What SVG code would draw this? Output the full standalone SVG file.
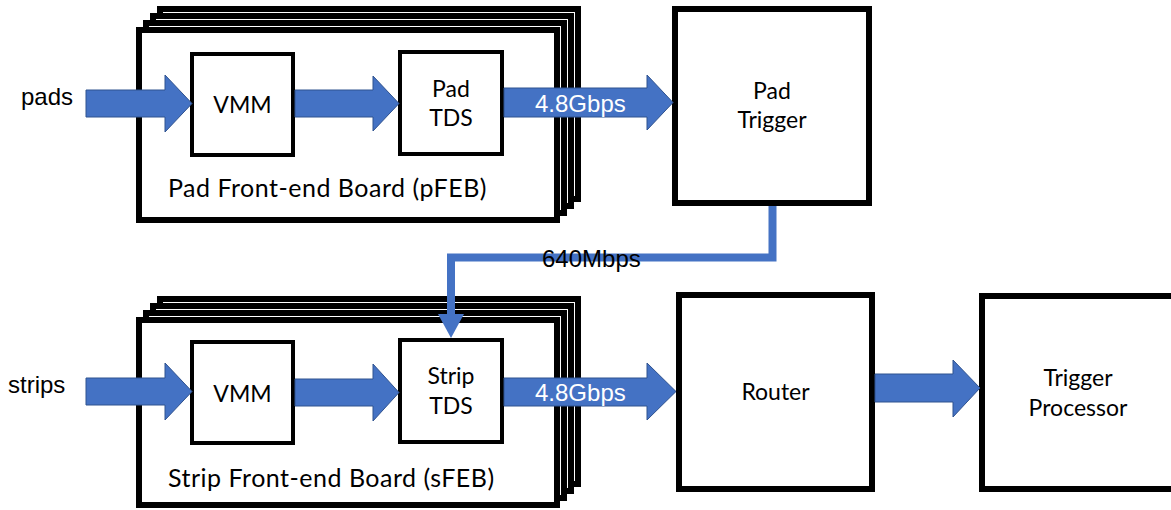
<svg xmlns="http://www.w3.org/2000/svg" width="1171" height="510" viewBox="0 0 1171 510">
  <style>
    .board { fill: #ffffff; stroke: #000000; stroke-width: 6; }
    .chip { fill: #ffffff; stroke: #000000; stroke-width: 4; }
    .unit { fill: #ffffff; stroke: #000000; stroke-width: 6; }
    .arrow { fill: #4472C4; stroke: #2F528F; stroke-width: 1; }
    .link { fill: none; stroke: #4472C4; stroke-width: 8; }
    .head { fill: #4472C4; }
    .box-text { font-family: Lato, "Open Sans", sans-serif; font-size: 23px; fill: #000000; text-anchor: middle; }
    .label { font-family: Lato, "Open Sans", sans-serif; font-size: 25px; letter-spacing: 0.5px; fill: #000000; }
    .side { font-family: "Liberation Sans", Arial, sans-serif; font-size: 24px; fill: #000000; }
    .rate { font-family: "Liberation Sans", Arial, sans-serif; font-size: 24px; fill: #ffffff; }
    .rate-dark { font-family: "Liberation Sans", Arial, sans-serif; font-size: 24px; fill: #000000; }
  </style>

  <rect width="1171" height="510" fill="#ffffff"/>

  <!-- Pad front-end board stack -->
  <g id="pfeb">
    <rect class="board" x="160" y="9" width="418" height="190"/>
    <rect class="board" x="153" y="16" width="418" height="190"/>
    <rect class="board" x="146" y="23" width="418" height="190"/>
    <rect class="board" x="139" y="30" width="418" height="190"/>
    <text class="label" x="168" y="197">Pad Front-end Board (pFEB)</text>
  </g>

  <!-- Strip front-end board stack -->
  <g id="sfeb">
    <rect class="board" x="160" y="299" width="418" height="185"/>
    <rect class="board" x="153" y="306" width="418" height="185"/>
    <rect class="board" x="146" y="313" width="418" height="185"/>
    <rect class="board" x="139" y="320" width="418" height="185"/>
    <text class="label" x="168" y="487">Strip Front-end Board (sFEB)</text>
  </g>

  <g id="pad-vmm">
    <rect class="chip" x="192" y="54" width="101" height="101"/>
    <text class="box-text" x="242.5" y="113">VMM</text>
  </g>

  <g id="pad-tds">
    <rect class="chip" x="400" y="52" width="102" height="102"/>
    <text class="box-text" x="451" y="97">Pad</text>
    <text class="box-text" x="451" y="126">TDS</text>
  </g>

  <g id="strip-vmm">
    <rect class="chip" x="192" y="342" width="101" height="101"/>
    <text class="box-text" x="242.5" y="402">VMM</text>
  </g>

  <g id="strip-tds">
    <rect class="chip" x="400" y="340" width="102" height="102"/>
    <text class="box-text" x="451" y="384">Strip</text>
    <text class="box-text" x="451" y="414">TDS</text>
  </g>

  <g id="pad-trigger">
    <rect class="unit" x="675" y="9" width="194" height="194"/>
    <text class="box-text" x="772" y="99">Pad</text>
    <text class="box-text" x="772" y="128">Trigger</text>
  </g>

  <g id="router">
    <rect class="unit" x="679" y="295" width="193" height="194"/>
    <text class="box-text" x="775.5" y="400">Router</text>
  </g>

  <g id="trigger-processor">
    <rect class="unit" x="982" y="296" width="192" height="193"/>
    <text class="box-text" x="1078" y="386">Trigger</text>
    <text class="box-text" x="1078" y="416">Processor</text>
  </g>

  <g id="inputs">
    <text class="side" x="21" y="105">pads</text>
    <text class="side" x="8" y="393">strips</text>
  </g>

  <!-- Block arrows and the 640 Mbps link -->
  <g id="connectors">
    <polygon class="arrow" points="86,90 165,90 165,75 192,103.5 165,132 165,117 86,117"/>
    <polygon class="arrow" points="295,90 373,90 373,76 399,103.5 373,131 373,117 295,117"/>
    <polygon class="arrow" points="504,88 647,88 647,75 673,102.5 647,130 647,117 504,117"/>
    <text class="rate" x="535" y="112">4.8Gbps</text>

    <polygon class="arrow" points="86,378 165,378 165,363 192,391.5 165,420 165,405 86,405"/>
    <polygon class="arrow" points="295,379 373,379 373,364 399,392.5 373,421 373,406 295,406"/>
    <polygon class="arrow" points="504,378 647,378 647,363 676,391.5 647,420 647,406 504,406"/>
    <text class="rate" x="535" y="401">4.8Gbps</text>

    <polygon class="arrow" points="875,374 953,374 953,360 980,388 953,417 953,402 875,402"/>

    <polyline class="link" points="772.5,206 772.5,257.5 451,257.5 451,316"/>
    <polygon class="head" points="438,314 464,314 451,338"/>
    <text class="rate-dark" x="542" y="267">640Mbps</text>
  </g>
</svg>
